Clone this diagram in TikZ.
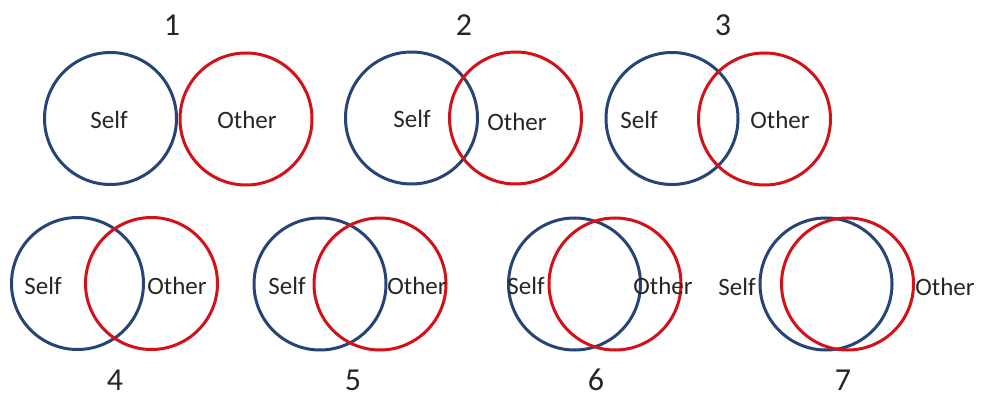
\documentclass[tikz,border=0pt]{standalone}
\usepackage{fontspec}
\setmainfont{Carlito}
\definecolor{selfblue}{RGB}{40,68,118}
\definecolor{otherred}{RGB}{210,18,24}
\begin{document}
\begin{tikzpicture}[x=1pt,y=-1pt,
  selfc/.style={circle,draw=selfblue,line width=3pt,minimum size=132pt,inner sep=0pt},
  otherc/.style={circle,draw=otherred,line width=3pt,minimum size=132pt,inner sep=0pt},
  lbl/.style={font=\fontsize{25}{25}\selectfont,text=black!85,inner sep=0pt},
  num/.style={font=\fontsize{32}{32}\selectfont,text=black!85,inner sep=0pt}]
\useasboundingbox (0,0) rectangle (982,398);
% 1
\node[selfc] (s1) at (110.5,118.5) {};
\node[otherc] (o1) at (246,119) {};
\node[lbl] (ts1) at (109,120) {Self};
\node[lbl] (to1) at (247,120) {Other};
\node[num] (n1) at (172,25) {1};
% 2
\node[selfc] (s2) at (411.5,118) {};
\node[otherc] (o2) at (515.5,118) {};
\node[lbl] (ts2) at (412,119) {Self};
\node[lbl] (to2) at (517,122) {Other};
\node[num] (n2) at (464,25) {2};
% 3
\node[selfc] (s3) at (672,118.5) {};
\node[otherc] (o3) at (764.5,119) {};
\node[lbl] (ts3) at (639,120) {Self};
\node[lbl] (to3) at (780,120) {Other};
\node[num] (n3) at (723,25) {3};
% 4
\node[selfc] (s4) at (77.5,283.5) {};
\node[otherc] (o4) at (151.5,283.5) {};
\node[lbl] (ts4) at (43,286) {Self};
\node[lbl] (to4) at (177,286) {Other};
\node[num] (n4) at (115,380) {4};
% 5
\node[selfc] (s5) at (320,284) {};
\node[otherc] (o5) at (380,284) {};
\node[lbl] (ts5) at (287,286) {Self};
\node[lbl] (to5) at (417,286) {Other};
\node[num] (n5) at (353,380) {5};
% 6
\node[selfc] (s6) at (574.5,284) {};
\node[otherc] (o6) at (615,284) {};
\node[lbl] (ts6) at (526,286) {Self};
\node[lbl] (to6) at (663,286) {Other};
\node[num] (n6) at (596,380) {6};
% 7
\node[selfc] (s7) at (826,284) {};
\node[otherc] (o7) at (847.5,284) {};
\node[lbl] (ts7) at (737,287) {Self};
\node[lbl] (to7) at (945,287) {Other};
\node[num] (n7) at (843,380) {7};
\end{tikzpicture}
\end{document}
